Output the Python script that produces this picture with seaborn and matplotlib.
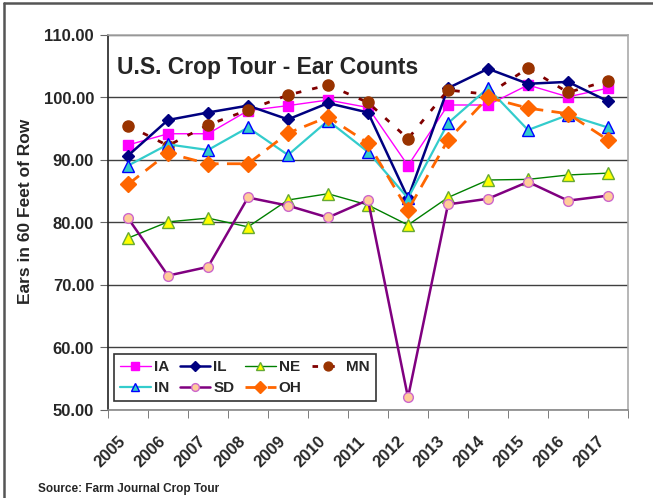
import pandas as pd
import seaborn as sns
import matplotlib.pyplot as plt
from matplotlib.lines import Line2D
from matplotlib.ticker import FixedLocator, FormatStrFormatter

years = list(range(2005, 2018))

ia = [92.4, 94.2, 94.2, 97.9, 98.7, 99.6, 98.4, 89.1, 98.8, 98.8, 102.0, 100.1, 101.5]
il = [90.7, 96.4, 97.6, 98.7, 96.5, 99.1, 97.6, 83.9, 101.5, 104.6, 102.2, 102.5, 99.4]
ne = [77.5, 80.1, 80.7, 79.3, 83.6, 84.6, 82.8, 79.6, 84.0, 86.8, 86.9, 87.6, 87.9]
mn = [95.5, 92.3, 95.6, 98.0, 100.4, 102.0, 99.2, 93.4, 101.2, 100.5, 104.7, 100.8, 102.7]
ind = [89.1, 92.5, 91.6, 95.2, 90.8, 96.3, 91.3, 83.9, 95.9, 101.5, 94.8, 97.2, 95.2]
sd = [80.7, 71.5, 72.9, 84.0, 82.7, 80.8, 83.6, 52.0, 82.9, 83.8, 86.5, 83.5, 84.3]
oh = [86.1, 91.1, 89.4, 89.4, 94.3, 96.9, 92.7, 82.0, 93.2, 100.0, 98.3, 97.4, 93.2]

states = ['IA', 'IL', 'NE', 'MN', 'IN', 'SD', 'OH']
values = [ia, il, ne, mn, ind, sd, oh]

df = pd.DataFrame({'year': years * len(states),
                   'ears': sum(values, []),
                   'state': [s for s in states for _ in years]})

# line / marker look per state
styles = {
    'IA': dict(color='#FF00FF', lw=1.0, ls='-', marker='s', ms=7, mfc='#FF00FF', mec='#FF00FF'),
    'IL': dict(color='#000080', lw=1.8, ls='-', marker='D', ms=6.5, mfc='#000080', mec='#000080'),
    'NE': dict(color='#008000', lw=1.0, ls='-', marker='^', ms=8, mfc='#FFFF00', mec='#66AA33'),
    'MN': dict(color='#800000', lw=2.0, ls=(0, (2, 4)), marker='o', ms=8, mfc='#993300', mec='#993300'),
    'IN': dict(color='#33CCCC', lw=1.6, ls='-', marker='^', ms=8, mfc='#33CCCC', mec='#0000FF'),
    'SD': dict(color='#800080', lw=1.8, ls='-', marker='o', ms=7, mfc='#FFCC99', mec='#CC66CC'),
    'OH': dict(color='#FF6600', lw=2.0, ls=(0, (5, 3)), marker='D', ms=8, mfc='#FF6600', mec='#FF6600'),
}

sns.set_style('white')
plt.rcParams['font.family'] = ['Liberation Sans', 'DejaVu Sans']

fig = plt.figure(figsize=(6.53, 4.98), dpi=100)
ax = fig.add_axes([108 / 653, 1 - 410 / 498, 520 / 653, 375 / 498])

handles = {}
for s in states:
    st = styles[s]
    sns.lineplot(data=df[df.state == s], x='year', y='ears', ax=ax,
                 color=st['color'], linewidth=st['lw'], linestyle=st['ls'],
                 marker=st['marker'], markersize=st['ms'],
                 markerfacecolor=st['mfc'], markeredgecolor=st['mec'],
                 markeredgewidth=1, errorbar=None, legend=False, zorder=3)
    handles[s] = Line2D([], [], color=st['color'], linewidth=st['lw'], linestyle=st['ls'],
                        marker=st['marker'], markersize=st['ms'] * 0.8,
                        markerfacecolor=st['mfc'], markeredgecolor=st['mec'])

ax.set_xlim(2004.5, 2017.5)
ax.set_ylim(50, 110)
ax.set_yticks(range(50, 111, 10))
ax.yaxis.set_major_formatter(FormatStrFormatter('%.2f'))
ax.set_xticks(years)
ax.set_xticklabels([str(y) for y in years])
ax.xaxis.set_minor_locator(FixedLocator([y + 0.5 for y in range(2004, 2018)]))
ax.tick_params(axis='x', which='major', length=0, pad=17, labelsize=12)
ax.tick_params(axis='x', which='minor', length=6, color='#666666', direction='out', bottom=True)
ax.tick_params(axis='y', length=6, color='#666666', direction='out', left=True, labelsize=12, pad=4)
for lab in ax.get_xticklabels():
    lab.set_rotation(45)
    lab.set_ha('right')
    lab.set_fontweight('bold')
for lab in ax.get_yticklabels():
    lab.set_fontweight('bold')

ax.grid(axis='y', color='#404040', linewidth=1)
ax.grid(axis='x', visible=False)
ax.set_axisbelow(True)

ax.spines['left'].set_color('#222222')
ax.spines['bottom'].set_color('#888888')
ax.spines['top'].set_color('#AAAAAA')
ax.spines['right'].set_color('#AAAAAA')
for sp in ax.spines.values():
    sp.set_linewidth(1.2)

ax.set_xlabel('')
ax.set_ylabel('Ears in 60 Feet of Row', fontsize=12.5, fontweight='bold')
ax.yaxis.set_label_coords(-0.145, 0.53)

ax.text(0.017, 0.895, 'U.S. Crop Tour - Ear Counts', transform=ax.transAxes,
        fontsize=16.5, fontweight='bold', ha='left', va='baseline')

order = ['IA', 'IN', 'IL', 'SD', 'NE', 'OH', 'MN']
leg = ax.legend([handles[s] for s in order], order, ncol=4, loc='lower left',
                bbox_to_anchor=(0.0115, 0.024), borderaxespad=0, fancybox=False,
                edgecolor='#333333', framealpha=1, handlelength=2.0, handletextpad=0.2,
                columnspacing=0.7, labelspacing=0.45, borderpad=0.4,
                prop={'weight': 'bold', 'size': 11})
leg.get_frame().set_linewidth(1.2)
leg.set_zorder(2)

fig.text(38 / 653, 1 - 492 / 498, 'Source: Farm Journal Crop Tour', fontsize=8.5,
         fontweight='bold', ha='left', va='baseline')

# outer frame (top and left edges visible)
fig.add_artist(Line2D([4 / 653, 4 / 653], [0, 1 - 3 / 498], transform=fig.transFigure,
                      color='#555555', linewidth=1.8))
fig.add_artist(Line2D([4 / 653, 1], [1 - 3 / 498, 1 - 3 / 498], transform=fig.transFigure,
                      color='#555555', linewidth=1.8))

fig.savefig('out.png', dpi=100)
